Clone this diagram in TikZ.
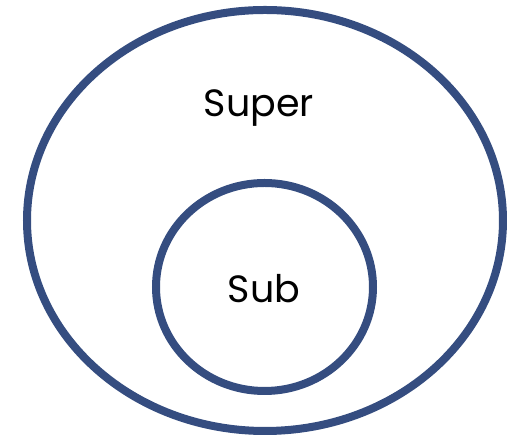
\documentclass[tikz,border=0pt]{standalone}
\usepackage{fontspec}
\setmainfont{Poppins}
\definecolor{setblue}{RGB}{53,77,128}
\begin{document}
\begin{tikzpicture}[x=1pt,y=1pt]
		\useasboundingbox (0,0) rectangle (507,438);
		\draw [setblue,line width=8pt] (265,217.5) ellipse [x radius=238,y radius=210.5];
		\draw [setblue,line width=8pt] (264.5,151) ellipse [x radius=108.5,y radius=104];
		\node [anchor=base,font=\fontsize{38}{38}\selectfont] (super) at (259,321) {Super};
		\node [anchor=base,font=\fontsize{38}{38}\selectfont] (sub) at (264,135) {Sub};
		\end{tikzpicture}
\end{document}
